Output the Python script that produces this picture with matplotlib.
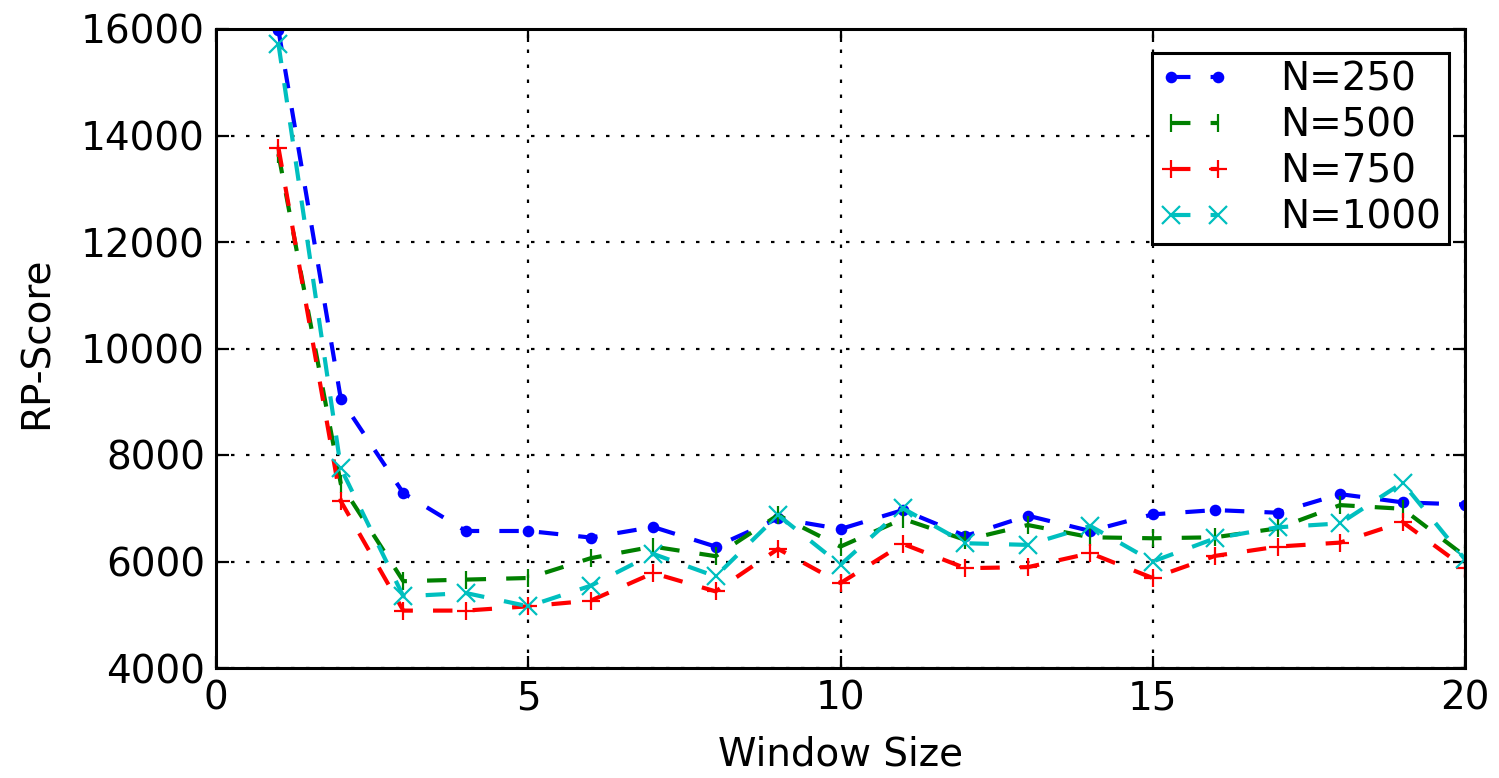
import matplotlib
matplotlib.use("Agg")
import matplotlib.pyplot as plt

plt.rcParams['font.family'] = ['DejaVu Sans']
plt.rcParams['lines.scale_dashes'] = False

window = list(range(1, 21))
n250 = [15980, 9046, 7285, 6573, 6573, 6450, 6648, 6280, 6810, 6610,
        6966, 6480, 6860, 6573, 6885, 6966, 6916, 7265, 7111, 7070]
n500 = [13650, 7450, 5630, 5660, 5690, 6062, 6280, 6100, 6872, 6280,
        6800, 6405, 6685, 6455, 6436, 6455, 6623, 7059, 6990, 6100]
n750 = [13770, 7130, 5078, 5078, 5159, 5265, 5782, 5439, 6237, 5595,
        6330, 5875, 5894, 6156, 5689, 6106, 6280, 6355, 6740, 5880]
n1000 = [15720, 7750, 5346, 5408, 5159, 5545, 6143, 5720, 6872, 5938,
         6997, 6343, 6312, 6667, 6000, 6436, 6642, 6716, 7478, 6040]

series = [
    (n250, 'N=250', '#0000ff', '.'),
    (n500, 'N=500', '#008000', '|'),
    (n750, 'N=750', '#ff0000', '+'),
    (n1000, 'N=1000', '#00bfbf', 'x'),
]

W, H, DPI = 1499, 778, 100
FS = 28
fig = plt.figure(figsize=(W / DPI, H / DPI), dpi=DPI)
ax = fig.add_axes([216 / W, 110 / H, 1249 / W, 639 / H])

for vals, lab, col, mk in series:
    ax.plot(window, vals, linestyle=(0, (14, 14.5)), color=col, linewidth=3.0,
            marker=mk, markersize=13.5, markeredgewidth=1.6,
            markeredgecolor=col, markerfacecolor=col, label=lab)

ax.set_xlim(0, 20)
ax.set_ylim(4000, 16000)
ax.set_xticks([0, 5, 10, 15, 20])
ax.set_yticks(range(4000, 16001, 2000))
ax.grid(True, color='black', linestyle=(0, (2.5, 8.3)), linewidth=1.6)

ax.tick_params(direction='in', length=9, width=1.6, top=True, right=True,
               labelsize=FS, colors='black')
ax.tick_params(axis='x', pad=8)
ax.tick_params(axis='y', pad=8)
for sp in ax.spines.values():
    sp.set_linewidth(2.2)
    sp.set_color('black')

ax.set_xlabel('Window Size', fontsize=FS, va='baseline')
ax.xaxis.set_label_coords(0.5, (668 - 765) / 639)
ax.set_ylabel('RP-Score', fontsize=FS, va='baseline')
ax.yaxis.set_label_coords((48 - 216) / 1249, (668 - 343) / 639)

leg = ax.legend(loc='upper left', bbox_to_anchor=((1152 - 216) / 1249, (668 - 53) / 639),
                borderaxespad=0, numpoints=2, fontsize=FS, fancybox=False,
                framealpha=1, edgecolor='black', handlelength=1.8,
                handletextpad=1.3, labelspacing=0.2, borderpad=0.2)
leg.get_frame().set_linewidth(2.2)

fig.savefig('out.png', dpi=DPI)
